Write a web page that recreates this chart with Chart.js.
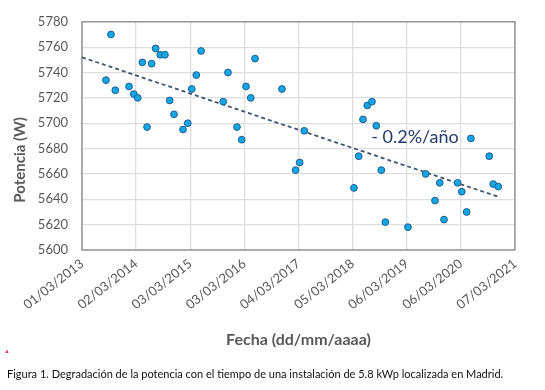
<!DOCTYPE html>
<html lang="es">
<head>
  <meta charset="UTF-8">
  <title>Degradación de la potencia – 5.8 kWp Madrid</title>
  <script src="https://cdn.jsdelivr.net/npm/chart.js"></script>
  <style>
    body {
      margin: 0;
      background: #fff;
      font-family: Lato, sans-serif;
    }

    .wrap {
      position: relative;
      width: 545px;
      height: 390px;
    }

    .marca {
      position: absolute;
      left: 4px;
      top: 347px;
      font-size: 6px;
      color: #e8336a;
    }

    .caption {
      position: absolute;
      left: 7px;
      top: 367px;
      font-size: 11px;
      color: #111;
      white-space: nowrap;
    }
  </style>
</head>
<body>
  <div class="wrap">
    <canvas id="grafico" width="545" height="390"></canvas>
    <div class="marca">▲</div>
    <div class="caption">Figura 1. Degradación de la potencia con el tiempo de una instalación de 5.8 kWp localizada en Madrid.</div>
  </div>

  <script>
    // etiquetas del eje X (cada 366 días, como en Excel)
    const fechasEje = ['01/03/2013', '02/03/2014', '03/03/2015', '03/03/2016', '04/03/2017',
                       '05/03/2018', '06/03/2019', '06/03/2020', '07/03/2021'];

    // medidas
    const fechas = [
      '10/08/2013', '13/09/2013', '12/10/2013', '13/01/2014', '14/02/2014', '13/03/2014',
      '13/04/2014', '15/05/2014', '15/06/2014', '12/07/2014', '12/08/2014', '13/09/2014',
      '15/10/2014', '13/11/2014', '13/01/2015', '14/02/2015', '13/03/2015', '13/04/2015',
      '15/05/2015', '12/10/2015', '13/11/2015', '13/01/2016', '14/02/2016', '14/03/2016',
      '15/04/2016', '14/05/2016', '12/11/2016', '12/02/2017', '12/03/2017', '12/04/2017',
      '14/03/2018', '15/04/2018', '14/05/2018', '12/06/2018', '14/07/2018', '12/08/2018',
      '15/09/2018', '12/10/2018', '14/03/2019', '12/07/2019', '13/09/2019', '15/10/2019',
      '13/11/2019', '13/02/2020', '12/03/2020', '14/04/2020', '13/05/2020', '14/09/2020',
      '11/10/2020', '14/11/2020'
    ];
    const potencia = [
      5734, 5770, 5726, 5729, 5723, 5720,
      5748, 5697, 5747, 5759, 5754, 5754,
      5718, 5707, 5695, 5700, 5727, 5738,
      5757, 5717, 5740, 5697, 5687, 5729,
      5720, 5751, 5727, 5663, 5669, 5694,
      5649, 5674, 5703, 5714, 5717, 5698,
      5663, 5622, 5618, 5660, 5639, 5653,
      5624, 5653, 5646, 5630, 5688, 5674,
      5652, 5650
    ];

    // línea de tendencia (lineal)
    const tendenciaFechas = ['01/03/2013', '14/11/2020'];
    const tendenciaValores = [5752, 5642];
    const tendenciaTexto = '- 0.2%/año';
    const tendenciaTextoPos = ['09/07/2018', 5689];

    const yTicks = [5600, 5620, 5640, 5660, 5680, 5700, 5720, 5740, 5760, 5780];

    // dd/mm/aaaa -> días desde la primera etiqueta del eje
    const origen = fechasEje[0];
    function dias(s) {
      const p = s.split('/').map(Number);
      const o = origen.split('/').map(Number);
      return (Date.UTC(p[2], p[1] - 1, p[0]) - Date.UTC(o[2], o[1] - 1, o[0])) / 86400000;
    }

    const gris = '#595959';
    const ticksX = fechasEje.map(dias);

    const marcoPlugin = {
      id: 'marco',
      beforeDatasetsDraw(chart) {
        const a = chart.chartArea, ctx = chart.ctx;
        ctx.save();
        ctx.strokeStyle = '#8a8a8a';
        ctx.lineWidth = 1.3;
        ctx.strokeRect(a.left, a.top, a.right - a.left, a.bottom - a.top);
        ctx.restore();
      },
      afterDatasetsDraw(chart) {
        const ctx = chart.ctx;
        const x = chart.scales.x.getPixelForValue(dias(tendenciaTextoPos[0]));
        const y = chart.scales.y.getPixelForValue(tendenciaTextoPos[1]);
        ctx.save();
        ctx.font = '18px Lato, sans-serif';
        ctx.fillStyle = '#243a6b';
        ctx.textBaseline = 'middle';
        ctx.fillText(tendenciaTexto, x, y);

        // título del eje Y (Excel lo coloca algo por debajo del centro)
        const a = chart.chartArea;
        ctx.translate(20, (a.top + a.bottom) / 2 + 24);
        ctx.rotate(-Math.PI / 2);
        ctx.font = 'bold 15px Lato, sans-serif';
        ctx.fillStyle = gris;
        ctx.textAlign = 'center';
        ctx.fillText('Potencia (W)', 0, 0);
        ctx.restore();
      }
    };

    const ctx = document.getElementById('grafico').getContext('2d');

    new Chart(ctx, {
      type: 'scatter',
      data: {
        datasets: [
          {
            label: 'Tendencia',
            type: 'line',
            data: tendenciaFechas.map((f, i) => ({ x: dias(f), y: tendenciaValores[i] })),
            borderColor: '#44546a',
            borderWidth: 1.8,
            borderDash: [4, 3],
            pointRadius: 0,
            fill: false,
            order: 2
          },
          {
            label: 'Potencia',
            data: fechas.map((f, i) => ({ x: dias(f), y: potencia[i] })),
            backgroundColor: '#14a6e6',
            borderColor: '#1e5f8c',
            borderWidth: 1,
            pointRadius: 3.4,
            order: 1
          }
        ]
      },
      options: {
        responsive: false,
        animation: false,
        devicePixelRatio: 1,
        layout: { padding: { top: 16, right: 30, left: 0, bottom: 35 } },
        plugins: {
          legend: { display: false },
          tooltip: { enabled: false }
        },
        scales: {
          x: {
            type: 'linear',
            min: ticksX[0],
            max: ticksX[ticksX.length - 1],
            afterBuildTicks: s => { s.ticks = ticksX.map(v => ({ value: v })); },
            afterFit: s => { s.height = 105; },
            grid: { color: '#dedede', lineWidth: 1.3, drawTicks: false },
            border: { display: false },
            ticks: {
              color: gris,
              font: { family: 'Lato', size: 13 },
              minRotation: 38,
              maxRotation: 38,
              padding: 6,
              autoSkip: false,
              callback: (v, i) => fechasEje[i]
            },
            title: {
              display: true,
              text: 'Fecha (dd/mm/aaaa)',
              color: gris,
              font: { family: 'Lato', size: 16, weight: 'bold' },
              padding: { top: 4, bottom: 6 }
            }
          },
          y: {
            min: yTicks[0],
            max: yTicks[yTicks.length - 1],
            afterBuildTicks: s => { s.ticks = yTicks.map(v => ({ value: v })); },
            afterFit: s => { s.width = 82; },
            grid: { color: '#dedede', lineWidth: 1.3, drawTicks: false },
            border: { display: false },
            ticks: {
              color: gris,
              font: { family: 'Lato', size: 13 },
              padding: 14,
              callback: v => String(v)
            }
          }
        }
      },
      plugins: [marcoPlugin]
    });
  </script>
</body>
</html>
